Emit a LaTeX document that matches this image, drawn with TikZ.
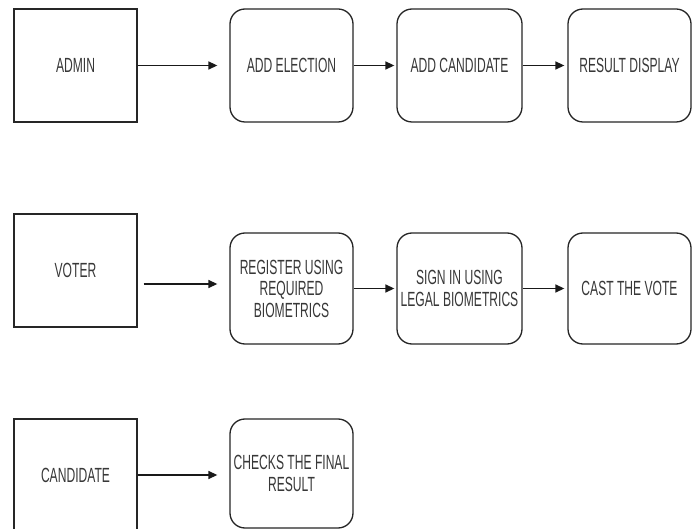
\documentclass[tikz,border=0pt]{standalone}
\usepackage{fontspec}
\setmainfont[FakeStretch=0.59]{Liberation Sans}
\usetikzlibrary{arrows.meta,calc}
\begin{document}
\begin{tikzpicture}[x=1pt,y=-1pt,
  every node/.style={font=\fontsize{20.5pt}{21.5pt}\selectfont, text=black!78, align=center, inner sep=0pt},
  plainbox/.style={draw=black!85, line width=1.3pt, rectangle, minimum width=123pt, minimum height=113pt},
  roundbox/.style={draw=black!85, line width=1.3pt, rectangle, rounded corners=15pt, minimum width=123pt, minimum height=111pt},
  arr/.style={draw=black!90, line width=1.4pt, -{Triangle[length=9pt,width=8pt]}}]
\useasboundingbox[fill=white] (0,0) rectangle (697,529);
% row 1
\node[plainbox] (admin) at (75.5,65.5) {ADMIN};
\node[roundbox, minimum height=113pt] (ae) at (291.5,65.5) {ADD ELECTION};
\node[roundbox, minimum height=113pt, minimum width=125pt] (ac) at (459.5,65.5) {ADD CANDIDATE};
\node[roundbox, minimum height=113pt] (rd) at (629.5,65.5) {RESULT DISPLAY};
% row 2
\node[plainbox] (voter) at (75.5,270.5) {VOTER};
\node[roundbox] (reg) at (291.5,288.5) {REGISTER USING\\REQUIRED\\BIOMETRICS};
\node[roundbox, minimum width=125pt] (sign) at (459.5,288.5) {SIGN IN USING\\LEGAL BIOMETRICS};
\node[roundbox] (cast) at (629.5,288.5) {CAST THE VOTE};
% row 3
\node[plainbox, minimum height=112pt] (cand) at (75.5,475) {CANDIDATE};
\node[roundbox, minimum height=109pt] (checks) at (291.5,473.5) {CHECKS THE FINAL\\RESULT};
% arrows
\draw[arr, shorten >=12pt] (admin.east) -- (ae.west);
\draw[arr, shorten >=2pt] (ae.east) -- (ac.west);
\draw[arr, shorten >=3pt] (ac.east) -- (rd.west);
\draw[arr, shorten >=12pt] ($(voter.east)+(6,13.5)$) -- ($(reg.west)+(0,-4.5)$);
\draw[arr, shorten >=2pt] (reg.east) -- (sign.west);
\draw[arr, shorten >=3pt] (sign.east) -- (cast.west);
\draw[arr, shorten >=12pt] (cand.east) -- (cand.east -| checks.west);
\end{tikzpicture}
\end{document}
